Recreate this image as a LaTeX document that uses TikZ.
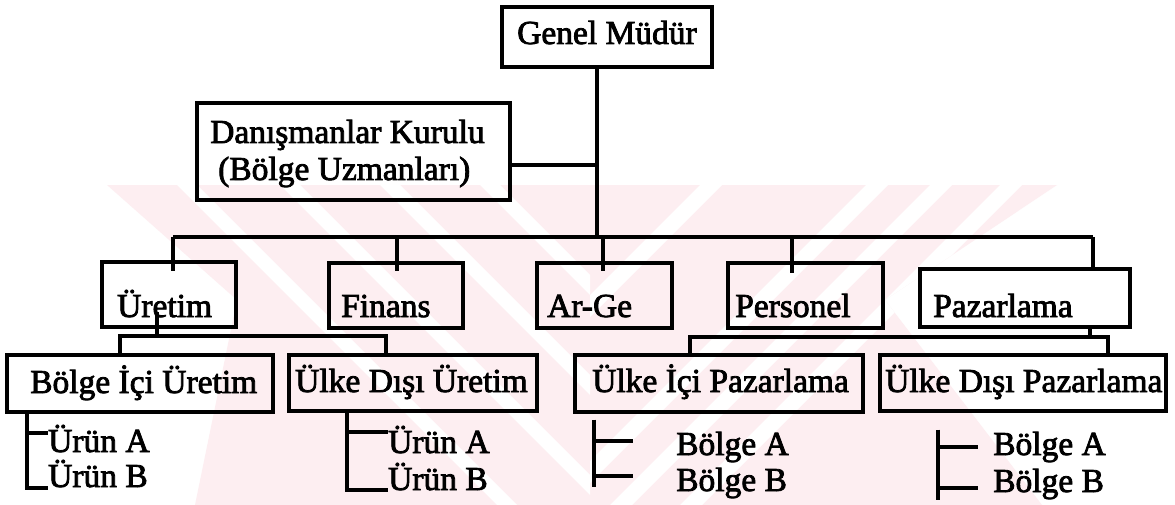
\documentclass[tikz,border=0pt]{standalone}
\usepackage{fontspec}
\newfontfamily\orgfont{Liberation Serif}[FakeBold=2.4]
\definecolor{wmpink}{RGB}{253,238,241}
\tikzset{
  box/.style={draw, line width=3.2pt, rectangle, inner sep=0pt},
  lbl/.style={anchor=base west, inner sep=0pt, font=\orgfont\fontsize{33.5}{37}\selectfont},
  link/.style={line width=3.2pt},
}
\begin{document}
\begin{tikzpicture}[x=1pt,y=-1pt]
\useasboundingbox (0,0) rectangle (1175,505);
\fill[white] (0,0) rectangle (1175,505);

% faint striped background mark
\begin{scope}
  \clip (107,185) -- (1057,185) -- (885,300) -- (1042,505) -- (195,505) -- (237,300) -- cycle;
  \fill[wmpink] (0,185) rectangle (1175,505);
  \begin{scope}
    \clip (0,185) rectangle (590,505);
    \foreach \s in {177,280,380,480}
      \fill[white] (\s,185) -- (\s+20,185) -- (\s+340,505) -- (\s+320,505) -- cycle;
  \end{scope}
  \begin{scope}
    \clip (590,185) rectangle (1175,505);
    \foreach \s in {700,866,930,1000}
      \fill[white] (\s,185) -- (\s+22,185) -- (\s-298,505) -- (\s-320,505) -- cycle;
  \end{scope}
\end{scope}

% boxes
\node[box, minimum width=210pt, minimum height=60pt] (gm) at (607,37) {};
\node[box, minimum width=313pt, minimum height=97pt] (dk) at (353.5,151.5) {};
\node[box, minimum width=134pt, minimum height=65pt] (ur) at (169,294.5) {};
\node[box, minimum width=134pt, minimum height=65pt] (fi) at (396,295.5) {};
\node[box, minimum width=135pt, minimum height=65pt] (ag) at (604.5,295.5) {};
\node[box, minimum width=155pt, minimum height=65pt] (pe) at (805.5,295.5) {};
\node[box, minimum width=210pt, minimum height=58pt] (pz) at (1025,298) {};
\node[box, minimum width=266pt, minimum height=57pt] (bi) at (140,383.5) {};
\node[box, minimum width=248pt, minimum height=56pt] (du) at (413,383) {};
\node[box, minimum width=288pt, minimum height=57pt] (ip) at (719,383.5) {};
\node[box, minimum width=286pt, minimum height=56pt] (dp) at (1023,383) {};

% labels
\node[lbl] (gm-t) at (517,44) {Genel Müdür};
\node[lbl] (dk-t1) at (210,143) {Danışmanlar Kurulu};
\node[lbl] (dk-t2) at (218,180) {(Bölge Uzmanları)};
\node[lbl] (ur-t) at (117,317) {Üretim};
\node[lbl] (fi-t) at (341,317) {Finans};
\node[lbl] (ag-t) at (547,317) {Ar-Ge};
\node[lbl] (pe-t) at (735,317) {Personel};
\node[lbl] (pz-t) at (933,317) {Pazarlama};
\node[lbl] (bi-t) at (30,393) {Bölge İçi Üretim};
\node[lbl] (du-t) at (295,392) {Ülke Dışı Üretim};
\node[lbl] (ip-t) at (592,392) {Ülke İçi Pazarlama};
\node[lbl] (dp-t) at (885,392) {Ülke Dışı Pazarlama};
\node[lbl] (ura1) at (48,452) {Ürün A};
\node[lbl] (urb1) at (48,487) {Ürün B};
\node[lbl] (ura2) at (388,453) {Ürün A};
\node[lbl] (urb2) at (388,490) {Ürün B};
\node[lbl] (bga1) at (676,455) {Bölge A};
\node[lbl] (bgb1) at (676,491) {Bölge B};
\node[lbl] (bga2) at (993,455) {Bölge A};
\node[lbl] (bgb2) at (993,492) {Bölge B};

% junction points
\coordinate (dk-j) at (597,165);
\coordinate (hub) at (597,237);
\coordinate (hub-l) at (173,237);
\coordinate (hub-f) at (397,237);
\coordinate (hub-a) at (603,237);
\coordinate (hub-p) at (792,237);
\coordinate (hub-r) at (1093,237);
\coordinate (ur-j) at (157,336);
\coordinate (ur-l) at (120,336);
\coordinate (ur-r) at (386,336);
\coordinate (pz-j) at (1090,337);
\coordinate (pz-l) at (690,337);
\coordinate (pz-r) at (1108,337);
\coordinate (bi-a) at (27,433);
\coordinate (bi-b) at (27,488);
\coordinate (du-a) at (347,432);
\coordinate (du-b) at (347,490);
\coordinate (ip-a) at (594,441);
\coordinate (ip-b) at (594,476);
\coordinate (ip-e) at (594,487);
\coordinate (dp-a) at (938,447);
\coordinate (dp-b) at (938,488);
\coordinate (dp-e) at (938,500);

% top level
\draw[link] ([xshift=-10pt]gm.south) -- (hub);
\draw[link] ([yshift=-13.5pt]dk.east) -- (dk-j);
\draw[link] (hub-l) -- (hub-r);
\draw[link] (hub-l) -- ([xshift=4pt,yshift=-11pt]ur.north);
\draw[link] (hub-f) -- ([xshift=1pt,yshift=-10pt]fi.north);
\draw[link] (hub-a) -- ([xshift=-1.5pt,yshift=-10pt]ag.north);
\draw[link] (hub-p) -- ([xshift=-13.5pt,yshift=-12pt]pe.north);
\draw[link] (hub-r) -- ([xshift=68pt]pz.north);

% production branch
\draw[link] ([xshift=-12pt,yshift=-17.5pt]ur.center) -- (ur-j);
\draw[link] ([xshift=-20pt]bi.north) -- (ur-l) -- (ur-r) -- ([xshift=-27pt]du.north);

% marketing branch
\draw[link] ([xshift=65pt]pz.south) -- (pz-j);
\draw[link] ([xshift=-29pt]ip.north) -- (pz-l) -- (pz-r) -- ([xshift=85pt]dp.north);

% product and region lists
\draw[link] ([xshift=-113pt]bi.south) -- (bi-b) -- (bi-b -| ura1.west);
\draw[link] (bi-a) -- (bi-a -| ura1.west);
\draw[link] ([xshift=-66pt]du.south) -- (du-b) -- (du-b -| ura2.west);
\draw[link] (du-a) -- (du-a -| ura2.west);
\draw[link] ([xshift=-125pt,yshift=-6pt]ip.south) -- (ip-e);
\draw[link] (ip-a) -- ++(39,0);
\draw[link] (ip-b) -- ++(39,0);
\draw[link] ([xshift=-85pt,yshift=-17pt]dp.south) -- (dp-e);
\draw[link] (dp-a) -- ++(40,0);
\draw[link] (dp-b) -- ++(40,0);
\end{tikzpicture}
\end{document}
